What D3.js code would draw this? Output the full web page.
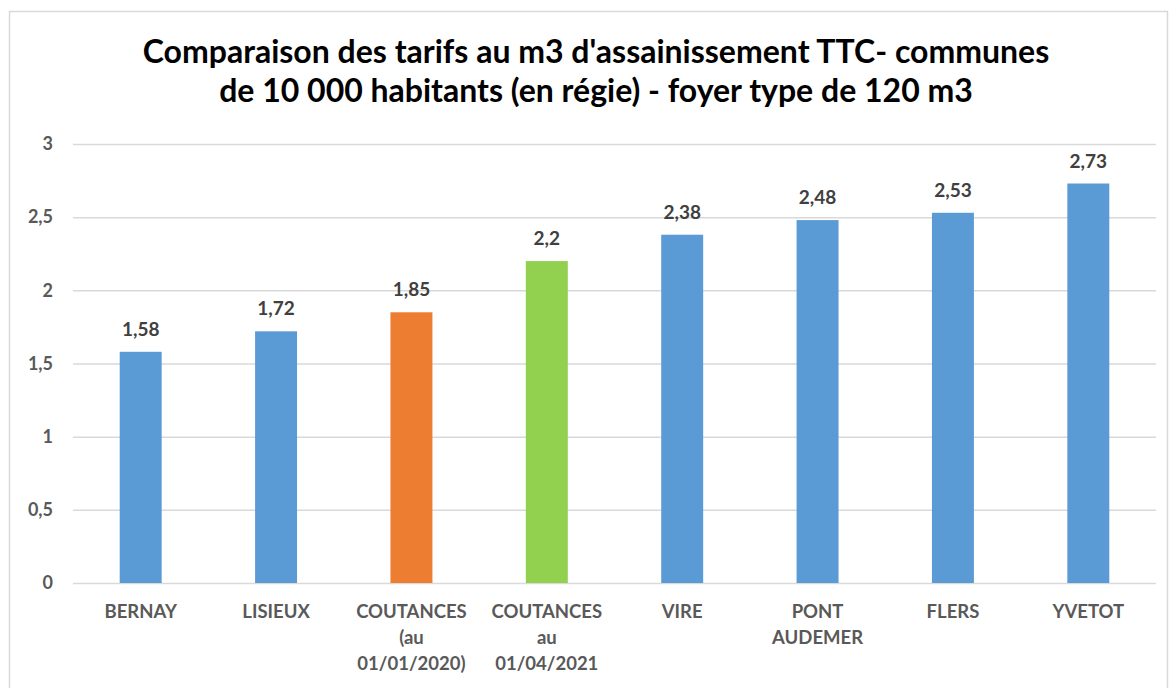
<!DOCTYPE html>
<html>
<head>
<meta charset="utf-8">
<script src="https://cdn.jsdelivr.net/npm/d3@7"></script>
<style>
  body { margin: 0; background: #fff; }
  svg { display: block; }
  text { font-family: Lato, "Open Sans", sans-serif; }
</style>
</head>
<body>
<div id="chart"></div>
<script>
// chart data
var communes = [
  ["BERNAY"],
  ["LISIEUX"],
  ["COUTANCES", "(au", "01/01/2020)"],
  ["COUTANCES", "au", "01/04/2021"],
  ["VIRE"],
  ["PONT", "AUDEMER"],
  ["FLERS"],
  ["YVETOT"]
];
var tarifs = [1.58, 1.72, 1.85, 2.2, 2.38, 2.48, 2.53, 2.73];
var couleurs = ["#5b9bd5", "#5b9bd5", "#ed7d31", "#92d050", "#5b9bd5", "#5b9bd5", "#5b9bd5", "#5b9bd5"];
var yTicks = [0, 0.5, 1, 1.5, 2, 2.5, 3];
var titre = [
  "Comparaison des tarifs au m3 d'assainissement TTC- communes",
  "de 10 000 habitants (en régie) - foyer type de 120 m3"
];

var W = 1171, H = 688;
var mLeft = 73, mRight = 1156, mTop = 144, mBottom = 583;

var svg = d3.select("#chart").append("svg")
    .attr("width", W)
    .attr("height", H);

// cadre du graphique
svg.append("rect")
    .attr("x", 9.5).attr("y", 11.5)
    .attr("width", 1158).attr("height", 690)
    .attr("fill", "none")
    .attr("stroke", "#d9d9d9")
    .attr("stroke-width", 1.5);

svg.selectAll(".titre")
    .data(titre)
  .enter().append("text")
    .attr("class", "titre")
    .attr("x", 596)
    .attr("y", function(d, i) { return 63 + i * 39; })
    .attr("text-anchor", "middle")
    .attr("font-size", 32)
    .attr("font-weight", "bold")
    .attr("fill", "#000")
    .text(function(d) { return d; });

var x = d3.scaleBand()
    .domain(d3.range(tarifs.length))
    .range([mLeft, mRight])
    .paddingInner(0.69)
    .paddingOuter(0.345);

var y = d3.scaleLinear()
    .domain([0, 3])
    .range([mBottom, mTop]);

// grille
var yAxis = d3.axisLeft(y)
    .tickValues(yTicks)
    .tickSize(-(mRight - mLeft))
    .tickPadding(20)
    .tickFormat(function(d) { return String(d).replace(".", ","); });

var gy = svg.append("g")
    .attr("transform", "translate(" + mLeft + ",0)")
    .call(yAxis);
gy.select(".domain").remove();
gy.selectAll(".tick line").attr("stroke", "#d9d9d9").attr("stroke-width", 1.5);
gy.selectAll(".tick text")
    .attr("font-size", 18)
    .attr("font-weight", "bold")
    .attr("fill", "#595959")
    .attr("font-family", "Lato, sans-serif");

svg.selectAll(".bar")
    .data(tarifs)
  .enter().append("rect")
    .attr("class", "bar")
    .attr("x", function(d, i) { return x(i); })
    .attr("y", function(d) { return y(d); })
    .attr("width", x.bandwidth())
    .attr("height", function(d) { return mBottom - y(d); })
    .attr("fill", function(d, i) { return couleurs[i]; });

svg.selectAll(".val")
    .data(tarifs)
  .enter().append("text")
    .attr("class", "val")
    .attr("x", function(d, i) { return x(i) + x.bandwidth() / 2; })
    .attr("y", function(d) { return y(d) - 16; })
    .attr("text-anchor", "middle")
    .attr("font-size", 19)
    .attr("font-weight", "bold")
    .attr("fill", "#404040")
    .text(function(d) { return String(d).replace(".", ","); });

var labels = svg.selectAll(".cat")
    .data(communes)
  .enter().append("text")
    .attr("class", "cat")
    .attr("text-anchor", "middle")
    .attr("font-size", 18.5)
    .attr("font-weight", "bold")
    .attr("fill", "#595959");

labels.selectAll("tspan")
    .data(function(d, i) { return d.map(function(t) { return {t: t, i: i}; }); })
  .enter().append("tspan")
    .attr("x", function(d) { return x(d.i) + x.bandwidth() / 2; })
    .attr("y", function(d, j) { return 618 + j * 26; })
    .text(function(d) { return d.t; });
</script>
</body>
</html>
